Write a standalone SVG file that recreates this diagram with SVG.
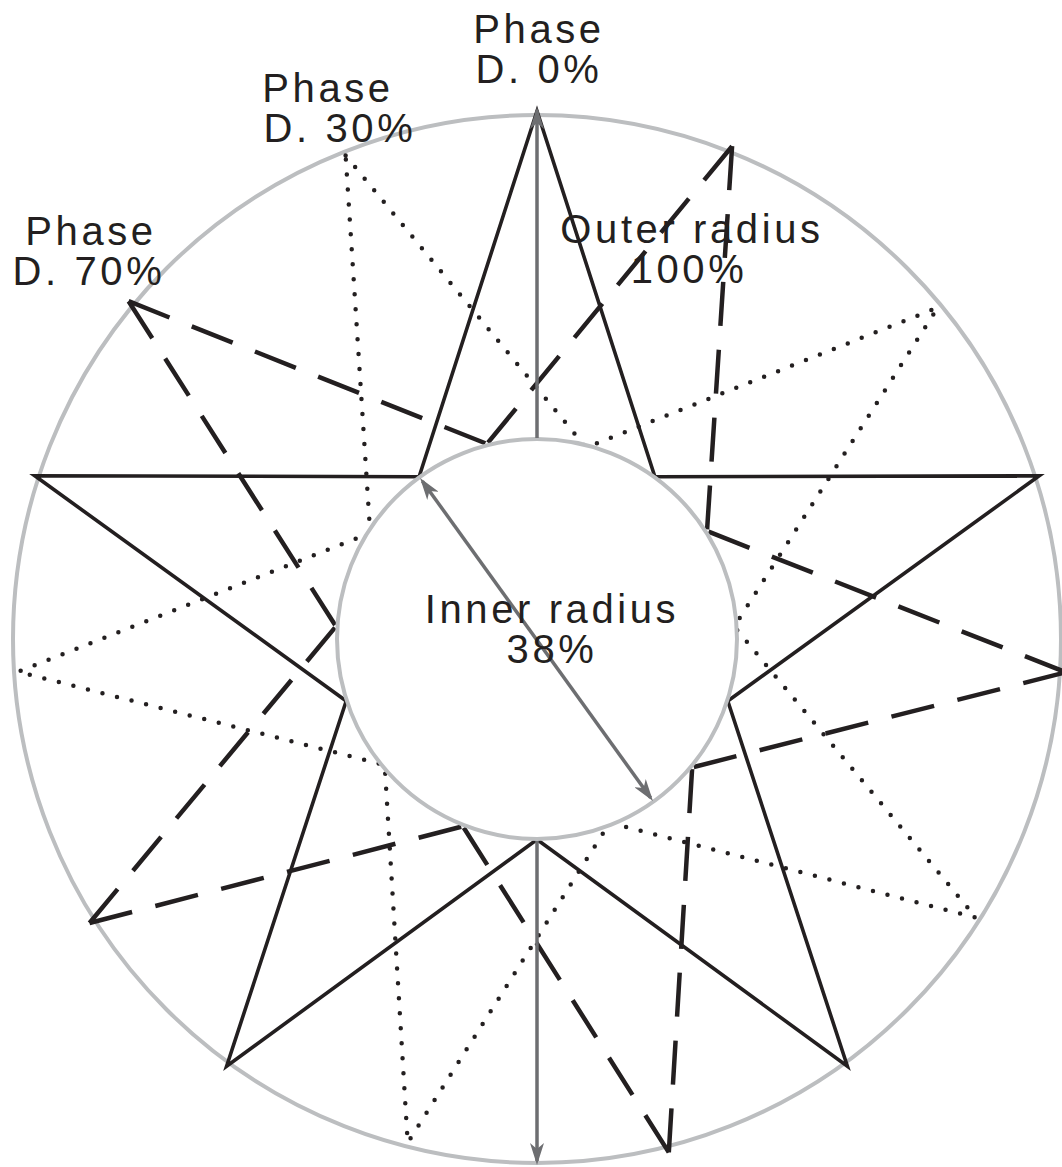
<svg xmlns="http://www.w3.org/2000/svg" width="1062" height="1167" viewBox="0 0 1062 1167">
  <defs>
    <marker id="ah" viewBox="0 0 22 14" refX="18" refY="7" markerWidth="22" markerHeight="14" markerUnits="userSpaceOnUse" orient="auto-start-reverse">
      <path d="M0,0 L22,7 L0,14 L6,7 z" fill="#6d6e71"/>
    </marker>
  </defs>
  <style>
    .ring { fill: none; stroke: #bcbec0; stroke-width: 4; }
    .inner { fill: #ffffff; stroke: #bcbec0; stroke-width: 4; }
    .solid { fill: none; stroke: #231f20; stroke-width: 3.6; stroke-linejoin: miter; }
    .dashed { fill: none; stroke: #231f20; stroke-width: 4.5; stroke-dasharray: 44 24; }
    .dotted { fill: none; stroke: #231f20; stroke-width: 4.5; stroke-dasharray: 0 15; stroke-linecap: round; }
    .arrow { fill: none; stroke: #6d6e71; stroke-width: 3.5; }
    .lbl { font-family: "Liberation Sans", Arial, sans-serif; font-size: 40px; letter-spacing: 3.6px; fill: #231f20; text-anchor: middle; }
  </style>
  <rect width="1062" height="1167" fill="#ffffff"/>
  <g id="outer-circle">
    <circle class="ring" cx="537" cy="639" r="524"/>
  </g>
  <g id="connectors">
    <path id="star-dotted" class="dotted" d="M345.6,155.5 L586.1,447.6 L937.7,307.6 L734.2,626.6 L976.0,917.6 L609.7,822.7 L407.7,1142.7 L384.7,765.0 L18.0,671.7 L370.2,533.1 Z"/>
    <g id="star-dashed" class="dashed">
      <line x1="128.6" y1="301.2" x2="486.9" y2="443.9"/>
      <line x1="128.6" y1="301.2" x2="336.0" y2="626.4"/>
      <line x1="732.1" y1="146.2" x2="486.9" y2="443.9"/>
      <line x1="732.1" y1="146.2" x2="707.0" y2="531.1"/>
      <line x1="1065.9" y1="672.3" x2="707.0" y2="531.1"/>
      <line x1="1065.9" y1="672.3" x2="692.2" y2="767.4"/>
      <line x1="668.8" y1="1152.4" x2="692.2" y2="767.4"/>
      <line x1="668.8" y1="1152.4" x2="462.9" y2="826.3"/>
      <line x1="89.5" y1="923.0" x2="462.9" y2="826.3"/>
      <line x1="89.5" y1="923.0" x2="336.0" y2="626.4"/>
    </g>
    <path id="star-solid" class="solid" d="M537,111 L654.9,476.7 L1039.2,475.8 L727.8,701.0 L847.4,1066.2 L537,839.6 L226.6,1066.2 L346.2,701.0 L34.8,475.8 L419.1,476.7 Z"/>
  </g>
  <g id="inner-circle">
    <circle class="inner" cx="537" cy="639" r="200"/>
  </g>
  <g id="measure-arrows">
    <line class="arrow" x1="537" y1="438" x2="537" y2="111" marker-end="url(#ah)"/>
    <line class="arrow" x1="537" y1="841" x2="537" y2="1161" marker-end="url(#ah)"/>
    <line class="arrow" x1="422.4" y1="481.2" x2="650.6" y2="797.8" marker-start="url(#ah)" marker-end="url(#ah)"/>
  </g>
  <g id="label-phase0">
    <text class="lbl" x="539" y="43">Phase</text>
    <text class="lbl" x="539" y="83">D. 0%</text>
  </g>
  <g id="label-phase30">
    <text class="lbl" x="328" y="102">Phase</text>
    <text class="lbl" x="340" y="142">D. 30%</text>
  </g>
  <g id="label-phase70">
    <text class="lbl" x="91" y="245">Phase</text>
    <text class="lbl" x="89" y="285">D. 70%</text>
  </g>
  <g id="label-outer">
    <text class="lbl" x="692" y="243">Outer radius</text>
    <text class="lbl" x="689" y="283">100%</text>
  </g>
  <g id="label-inner">
    <text class="lbl" x="552" y="623">Inner radius</text>
    <text class="lbl" x="552" y="663">38%</text>
  </g>
</svg>
